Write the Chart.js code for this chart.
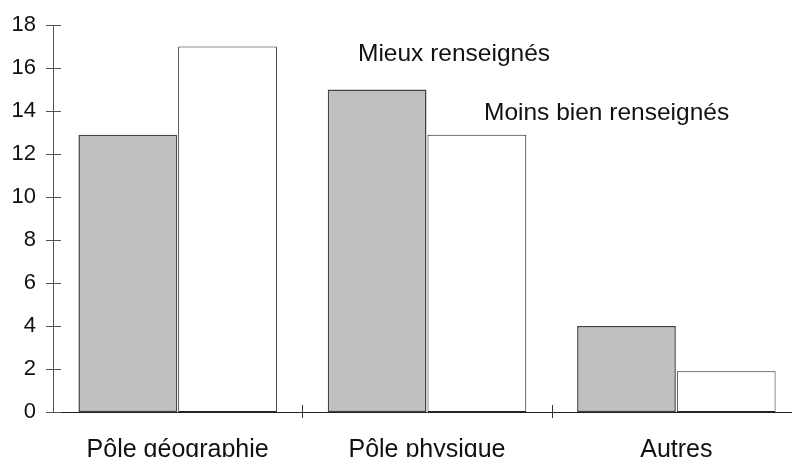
<!DOCTYPE html>
<html>
<head>
<meta charset="utf-8">
<script src="https://cdn.jsdelivr.net/npm/chart.js@4/dist/chart.umd.min.js"></script>
<style>
  html, body { margin: 0; padding: 0; background: #fff; }
  #wrap { width: 792px; height: 457px; overflow: hidden; }
</style>
</head>
<body>
<div id="wrap"><canvas id="grafico" width="801" height="457"></canvas></div>
<script>
// Données
const categories = ['Pôle géographie', 'Pôle physique', 'Autres'];
const mieuxRenseignes = [12.9, 15, 4];
const moinsBienRenseignes = [17, 12.9, 1.9];
const yTicks = [0, 2, 4, 6, 8, 10, 12, 14, 16, 18];

const POLICE = "'Liberation Sans', Arial, sans-serif";

// Petits traits qui traversent les axes + étiquettes de séries
const decorations = {
    id: 'decorations',
    afterDraw(chart) {
        const ctx = chart.ctx;
        const x = chart.scales.x;
        const y = chart.scales.y;
        ctx.save();
        ctx.lineWidth = 1;
        ctx.strokeStyle = '#555';
        yTicks.forEach(v => {
            const py = Math.round(y.getPixelForValue(v)) + 0.5;
            ctx.beginPath();
            ctx.moveTo(x.left - 7, py);
            ctx.lineTo(x.left + 8, py);
            ctx.stroke();
        });
        ctx.strokeStyle = '#333';
        const pas = (x.right - x.left) / categories.length;
        for (let i = 1; i < categories.length; i++) {
            const px = Math.round(x.left + pas * i) + 0.5;
            ctx.beginPath();
            ctx.moveTo(px, y.bottom - 7);
            ctx.lineTo(px, y.bottom + 6);
            ctx.stroke();
        }
        ctx.fillStyle = '#111';
        ctx.font = '24.5px ' + POLICE;
        ctx.textBaseline = 'alphabetic';
        ctx.fillText('Mieux renseignés', 358, 61);
        ctx.fillText('Moins bien renseignés', 484, 120);
        ctx.restore();
    }
};

new Chart(document.getElementById('grafico').getContext('2d'), {
    type: 'bar',
    data: {
        labels: categories,
        datasets: [{
            label: 'Mieux renseignés',
            data: mieuxRenseignes,
            backgroundColor: '#c0c0c0',
            borderColor: '#444',
            borderWidth: 1.5,
            borderSkipped: false,
            categoryPercentage: 0.8,
            barPercentage: 0.99
        }, {
            label: 'Moins bien renseignés',
            data: moinsBienRenseignes,
            backgroundColor: '#ffffff',
            borderColor: '#222',
            borderWidth: 1,
            borderSkipped: false,
            categoryPercentage: 0.8,
            barPercentage: 0.99
        }]
    },
    options: {
        responsive: false,
        animation: false,
        devicePixelRatio: 1,
        layout: { padding: { top: 25, right: 0, left: 0, bottom: 0 } },
        plugins: {
            legend: { display: false },
            tooltip: { enabled: false }
        },
        scales: {
            x: {
                offset: true,
                grid: { display: false, drawTicks: false },
                border: { display: true, color: '#222', width: 1 },
                ticks: {
                    color: '#111',
                    padding: 23,
                    font: { family: POLICE, size: 25 },
                    maxRotation: 0
                },
                afterFit: scale => {
                    scale.height = 45;
                    scale.paddingLeft = 0;
                    scale.paddingRight = 0;
                }
            },
            y: {
                min: 0,
                max: 18,
                grid: { display: false, drawTicks: false },
                border: { display: true, color: '#555', width: 1 },
                afterBuildTicks: scale => { scale.ticks = yTicks.map(v => ({ value: v })); },
                ticks: {
                    color: '#111',
                    padding: 17,
                    font: { family: POLICE, size: 22 }
                },
                afterFit: scale => {
                    scale.width = 53;
                    scale.paddingTop = 0;
                    scale.paddingBottom = 0;
                }
            }
        }
    },
    plugins: [decorations]
});
</script>
</body>
</html>
